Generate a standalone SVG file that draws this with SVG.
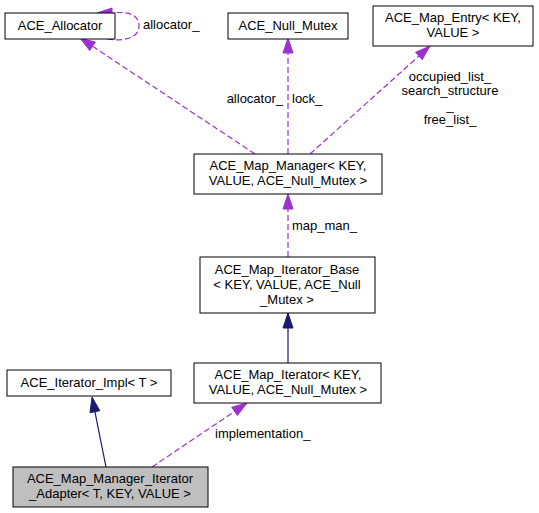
<svg xmlns="http://www.w3.org/2000/svg" width="539" height="513" viewBox="0 0 539 513">
<style>
text{font-family:"Liberation Sans",Arial,sans-serif;font-size:13px;fill:#000}
.n rect{fill:#fff;stroke:#000;stroke-width:1}
.c{text-anchor:middle}
.d{fill:none;stroke:#9a32cd;stroke-width:1.2;stroke-dasharray:6,3}
.s{fill:none;stroke:#191970;stroke-width:1.2}
.ha{fill:#9a32cd;stroke:#9a32cd}
.hb{fill:#191970;stroke:#191970}
</style>
<rect width="539" height="513" fill="#fff"/>
<g id="edges">
  <path class="d" d="M107,39 C126,42 139,37 139,26 C139,15 129,11 112,13"/>
  <polygon class="ha" points="112,8 97,13 112,18"/>
  <path class="d" d="M255,154 L92.5,46.3"/>
  <polygon class="ha" points="95.3,42.1 80,38 89.7,50.5"/>
  <path class="d" d="M288,154 L288,53"/>
  <polygon class="ha" points="283,53 288,38 293,53"/>
  <path class="d" d="M310,154 L418.9,56"/>
  <polygon class="ha" points="422.2,59.7 430,46 415.6,52.3"/>
  <path class="d" d="M288,257 L288,209"/>
  <polygon class="ha" points="283,209 288,194 293,209"/>
  <path class="s" d="M288,363 L288,328"/>
  <polygon class="hb" points="283,328 288,313 293,328"/>
  <path class="s" d="M106,467 L94.9,411.7"/>
  <polygon class="hb" points="99.8,410.7 92,397 90,412.7"/>
  <path class="d" d="M152,467 L234.6,411.4"/>
  <polygon class="ha" points="237.4,415.5 247,403 231.8,407.2"/>
  <text x="143" y="29">allocator_</text>
  <text x="283" y="103" text-anchor="end">allocator_</text>
  <text x="292" y="103">lock_</text>
  <text x="450" y="81" class="c">occupied_list_</text>
  <text x="450" y="95" class="c">search_structure</text>
  <text x="450" y="110" class="c">_</text>
  <text x="450" y="124" class="c">free_list_</text>
  <text x="292" y="230">map_man_</text>
  <text x="215" y="438">implementation_</text>
</g>
<g id="node_allocator" class="n">
  <rect x="5" y="13" width="110" height="26"/>
  <text x="60" y="30" class="c">ACE_Allocator</text>
</g>
<g id="node_null_mutex" class="n">
  <rect x="228" y="13" width="120" height="26"/>
  <text x="288" y="30" class="c">ACE_Null_Mutex</text>
</g>
<g id="node_map_entry" class="n">
  <rect x="373" y="6" width="160" height="40"/>
  <text x="453" y="22" class="c">ACE_Map_Entry&lt; KEY,</text>
  <text x="453" y="37" class="c">VALUE &gt;</text>
</g>
<g id="node_map_manager" class="n">
  <rect x="194" y="154" width="188" height="40"/>
  <text x="288" y="170" class="c">ACE_Map_Manager&lt; KEY,</text>
  <text x="288" y="185" class="c">VALUE, ACE_Null_Mutex &gt;</text>
</g>
<g id="node_map_iterator_base" class="n">
  <rect x="200" y="257" width="175" height="56"/>
  <text x="287" y="274" class="c">ACE_Map_Iterator_Base</text>
  <text x="287" y="289" class="c">&lt; KEY, VALUE, ACE_Null</text>
  <text x="287" y="304" class="c">_Mutex &gt;</text>
</g>
<g id="node_map_iterator" class="n">
  <rect x="194" y="363" width="187" height="40"/>
  <text x="288" y="379" class="c">ACE_Map_Iterator&lt; KEY,</text>
  <text x="288" y="394" class="c">VALUE, ACE_Null_Mutex &gt;</text>
</g>
<g id="node_iterator_impl" class="n">
  <rect x="7" y="370" width="164" height="26"/>
  <text x="89" y="387" class="c">ACE_Iterator_Impl&lt; T &gt;</text>
</g>
<g id="node_adapter" class="n">
  <rect x="13" y="467" width="195" height="40" style="fill:#bfbfbf"/>
  <text x="110" y="483" class="c">ACE_Map_Manager_Iterator</text>
  <text x="110" y="498" class="c">_Adapter&lt; T, KEY, VALUE &gt;</text>
</g>
</svg>
